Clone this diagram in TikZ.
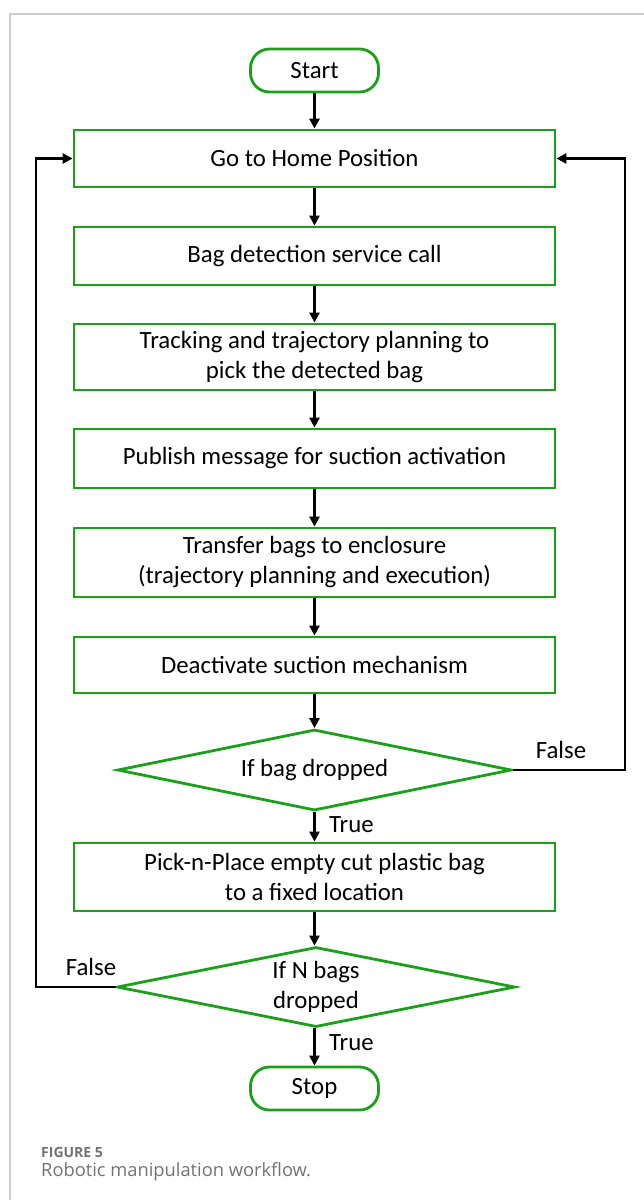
\documentclass[tikz,border=0pt]{standalone}
\usepackage{fontspec}
\setmainfont{Carlito}
\newfontfamily\capfont{Open Sans}
\usetikzlibrary{arrows.meta,shapes.geometric}
\definecolor{fgreen}{RGB}{28,160,28}
\definecolor{framegray}{RGB}{205,205,205}
\definecolor{capgray}{RGB}{115,115,115}
\tikzset{
  txt/.style={font=\fontsize{24.8bp}{30bp}\selectfont},
  boxnode/.style={txt,draw=fgreen,line width=2.8bp,minimum width=481bp,inner sep=0pt,align=center},
  termnode/.style={txt,draw=fgreen,line width=2.8bp,rounded corners=19bp,minimum width=128bp,minimum height=43bp,inner sep=0pt},
  decnode/.style={txt,draw=fgreen,line width=2.8bp,diamond,aspect=4.9,inner sep=0pt,align=center},
  flow/.style={line width=2.8bp,-{Triangle[length=10bp,width=10bp]}},
  lbl/.style={txt,inner sep=0pt}
}
\begin{document}
\begin{tikzpicture}[x=1bp,y=-1bp]
\useasboundingbox (0,0) rectangle (644,1200);
\fill[white] (0,0) rectangle (644,1200);
\draw[framegray,line width=1.2bp] (10,1200) -- (10,14) -- (644,14);

\node[termnode] (start) at (314.5,70.5) {Start};
\node[boxnode,minimum height=57bp] (home) at (314.5,158.5) {Go to Home Position};
\node[boxnode,minimum height=58bp] (bag) at (314.5,256) {Bag detection service call};
\node[boxnode,minimum height=66bp] (track) at (314.5,357) {Tracking and trajectory planning to\\pick the detected bag};
\node[boxnode,minimum height=59bp] (pub) at (314.5,458.5) {Publish message for suction activation};
\node[boxnode,minimum height=69bp] (trans) at (314.5,562.5) {Transfer bags to enclosure\\(trajectory planning and execution)};
\node[boxnode,minimum height=56bp] (deact) at (314.5,665) {Deactivate suction mechanism};
\node[decnode,minimum width=394bp,minimum height=81bp] (d1) at (314.5,770) {If bag dropped};
\node[boxnode,minimum height=68bp] (pick) at (314.5,877) {Pick-n-Place empty cut plastic bag\\to a fixed location};
\node[decnode,minimum width=398bp,minimum height=80bp] (d2) at (316,987) {If N bags\\dropped};
\node[termnode] (stop) at (314.5,1088.5) {Stop};

\draw[flow] (start) -- (home);
\draw[flow] (home) -- (bag);
\draw[flow] (bag) -- (track);
\draw[flow] (track) -- (pub);
\draw[flow] (pub) -- (trans);
\draw[flow] (trans) -- (deact);
\draw[flow] (deact) -- (d1.north);
\draw[flow] (d1.south) -- (pick);
\draw[flow] (pick) -- (d2.north -| pick.south);
\draw[flow] (d2.south -| stop.north) -- (stop);

\coordinate (r1) at (625,770);
\coordinate (l1) at (36,987);
\draw[flow] (d1.east) -- (r1) |- (home.east);
\draw[flow] (d2.west) -- (l1) |- (home.west);

\node[lbl,anchor=south] (f1) at (561,759) {False};
\node[lbl,anchor=west] (t1) at (329,825) {True};
\node[lbl,anchor=south] (f2) at (91,976) {False};
\node[lbl,anchor=west] (t2) at (329,1043) {True};

\node[anchor=west,inner sep=0pt,text=capgray,font=\capfont\bfseries\fontsize{14bp}{17bp}\selectfont] (cap1) at (41,1152) {FIGURE 5};
\node[anchor=west,inner sep=0pt,text=capgray,font=\capfont\fontsize{18.3bp}{22bp}\selectfont] (cap2) at (41,1172) {Robotic manipulation workflow.};
\end{tikzpicture}
\end{document}
